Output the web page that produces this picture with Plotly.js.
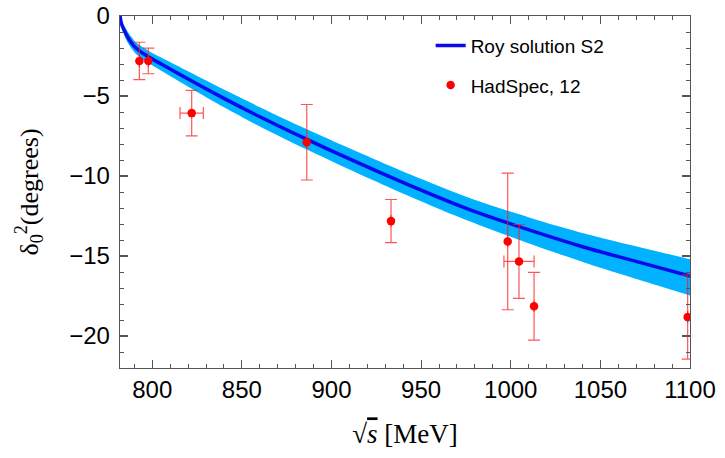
<!DOCTYPE html>
<html>
<head>
<meta charset="utf-8">
<script src="https://cdn.plot.ly/plotly-3.0.1.min.js"></script>
<style>html,body{margin:0;padding:0;background:#fff;}</style>
</head>
<body>
<div id="chart" style="width:725px;height:458px;"></div>
<script>
// Roy solution S2 (central curve and uncertainty band), sqrt(s) in MeV, delta in degrees
const curveX      = [782, 783, 785, 787, 790, 793, 798, 805, 821, 840, 860, 886, 910, 944, 977, 1011, 1041, 1072, 1100];
const curveCenter = [0, -0.55, -1.05, -1.45, -1.9, -2.2, -2.56, -3.0, -4.0, -5.15, -6.3, -7.7, -8.93, -10.6, -12.1, -13.4, -14.45, -15.4, -16.25];
const bandUpper   = [0, -0.33, -0.72, -1.1, -1.54, -1.83, -2.18, -2.6, -3.52, -4.6, -5.7, -7.07, -8.27, -9.91, -11.37, -12.62, -13.59, -14.45, -15.2];
const bandLower   = [0, -0.77, -1.38, -1.8, -2.26, -2.57, -2.94, -3.42, -4.48, -5.7, -6.9, -8.33, -9.59, -11.29, -12.83, -14.25, -15.4, -16.5, -17.47];

// HadSpec 12 lattice points
const hsX    = [792.8, 797.8, 822.0, 886.2, 933.2, 998.3, 1004.6, 1013.0, 1098.7];
const hsY    = [-2.81, -2.81, -6.07, -7.89, -12.82, -14.09, -15.34, -18.14, -18.82];
const hsErrY = [1.17, 0.8, 1.42, 2.36, 1.35, 4.27, 2.31, 2.12, 2.62];
const hsErrX = [null, null, 6.5, null, null, null, 8.4, null, null];

const xTickVals = [800, 850, 900, 950, 1000, 1050, 1100];
const yTickVals = [0, -5, -10, -15, -20];

const traces = [
  {x: curveX, y: bandLower, type: 'scatter', mode: 'lines', line: {width: 0, shape: 'spline', smoothing: 0.8},
   showlegend: false, hoverinfo: 'skip'},
  {x: curveX, y: bandUpper, type: 'scatter', mode: 'lines', line: {width: 0, shape: 'spline', smoothing: 0.8},
   fill: 'tonexty', fillcolor: 'rgb(0,178,255)', showlegend: false, hoverinfo: 'skip'},
  {x: curveX, y: curveCenter, type: 'scatter', mode: 'lines', name: 'Roy solution S2', legendgroup: 'a',
   line: {color: 'rgb(10,10,235)', width: 3.5, shape: 'spline', smoothing: 0.8}},
  {x: hsX, y: hsY, type: 'scatter', mode: 'markers', name: 'HadSpec, 12', legendgroup: 'b',
   marker: {color: 'rgb(255,0,0)', size: 8.5},
   error_y: {type: 'data', array: hsErrY, visible: true, color: 'rgba(255,30,30,0.75)', thickness: 1.2, width: 6},
   error_x: {type: 'data', array: hsErrX, visible: true, color: 'rgba(255,30,30,0.75)', thickness: 1.2, width: 6}}
];

const axisCommon = {
  showline: true, linecolor: '#555', linewidth: 1.3, mirror: 'ticks',
  ticks: 'inside', ticklen: 8, tickwidth: 1.2, tickcolor: '#555',
  showgrid: false, zeroline: false,
  tickfont: {family: 'Liberation Sans, Arial, sans-serif', size: 24, color: '#000'}
};

const layout = {
  width: 725, height: 458,
  margin: {l: 120, r: 35, t: 16, b: 90},
  paper_bgcolor: '#fff', plot_bgcolor: '#fff',
  showlegend: true,
  legend: {x: 0.545, y: 0.97, xanchor: 'left', yanchor: 'top', bgcolor: 'rgba(0,0,0,0)',
           traceorder: 'grouped', tracegroupgap: 12,
           font: {family: 'Liberation Sans, Arial, sans-serif', size: 19, color: '#000'}},
  xaxis: Object.assign({}, axisCommon, {
    range: [782, 1100], tickmode: 'array', tickvals: xTickVals,
    minor: {dtick: 10, tick0: 800, ticks: 'inside', ticklen: 4, tickcolor: '#555', tickwidth: 1},
    title: {text: '√<span style="text-decoration:overline"><i>s</i></span> [MeV]',
            font: {family: 'Liberation Serif, Times New Roman, serif', size: 27, color: '#000'}, standoff: 22}
  }),
  yaxis: Object.assign({}, axisCommon, {
    range: [-22, 0], tickmode: 'array', tickvals: yTickVals, ticklabelstandoff: 4,
    minor: {dtick: 1, tick0: 0, ticks: 'inside', ticklen: 4, tickcolor: '#555', tickwidth: 1},
    title: {text: 'δ<sub>0</sub><sup>2</sup>(degrees)',
            font: {family: 'Liberation Serif, Times New Roman, serif', size: 26, color: '#000'}, standoff: 23}
  })
};

Plotly.newPlot('chart', traces, layout, {displayModeBar: false, staticPlot: true});
</script>
</body>
</html>
